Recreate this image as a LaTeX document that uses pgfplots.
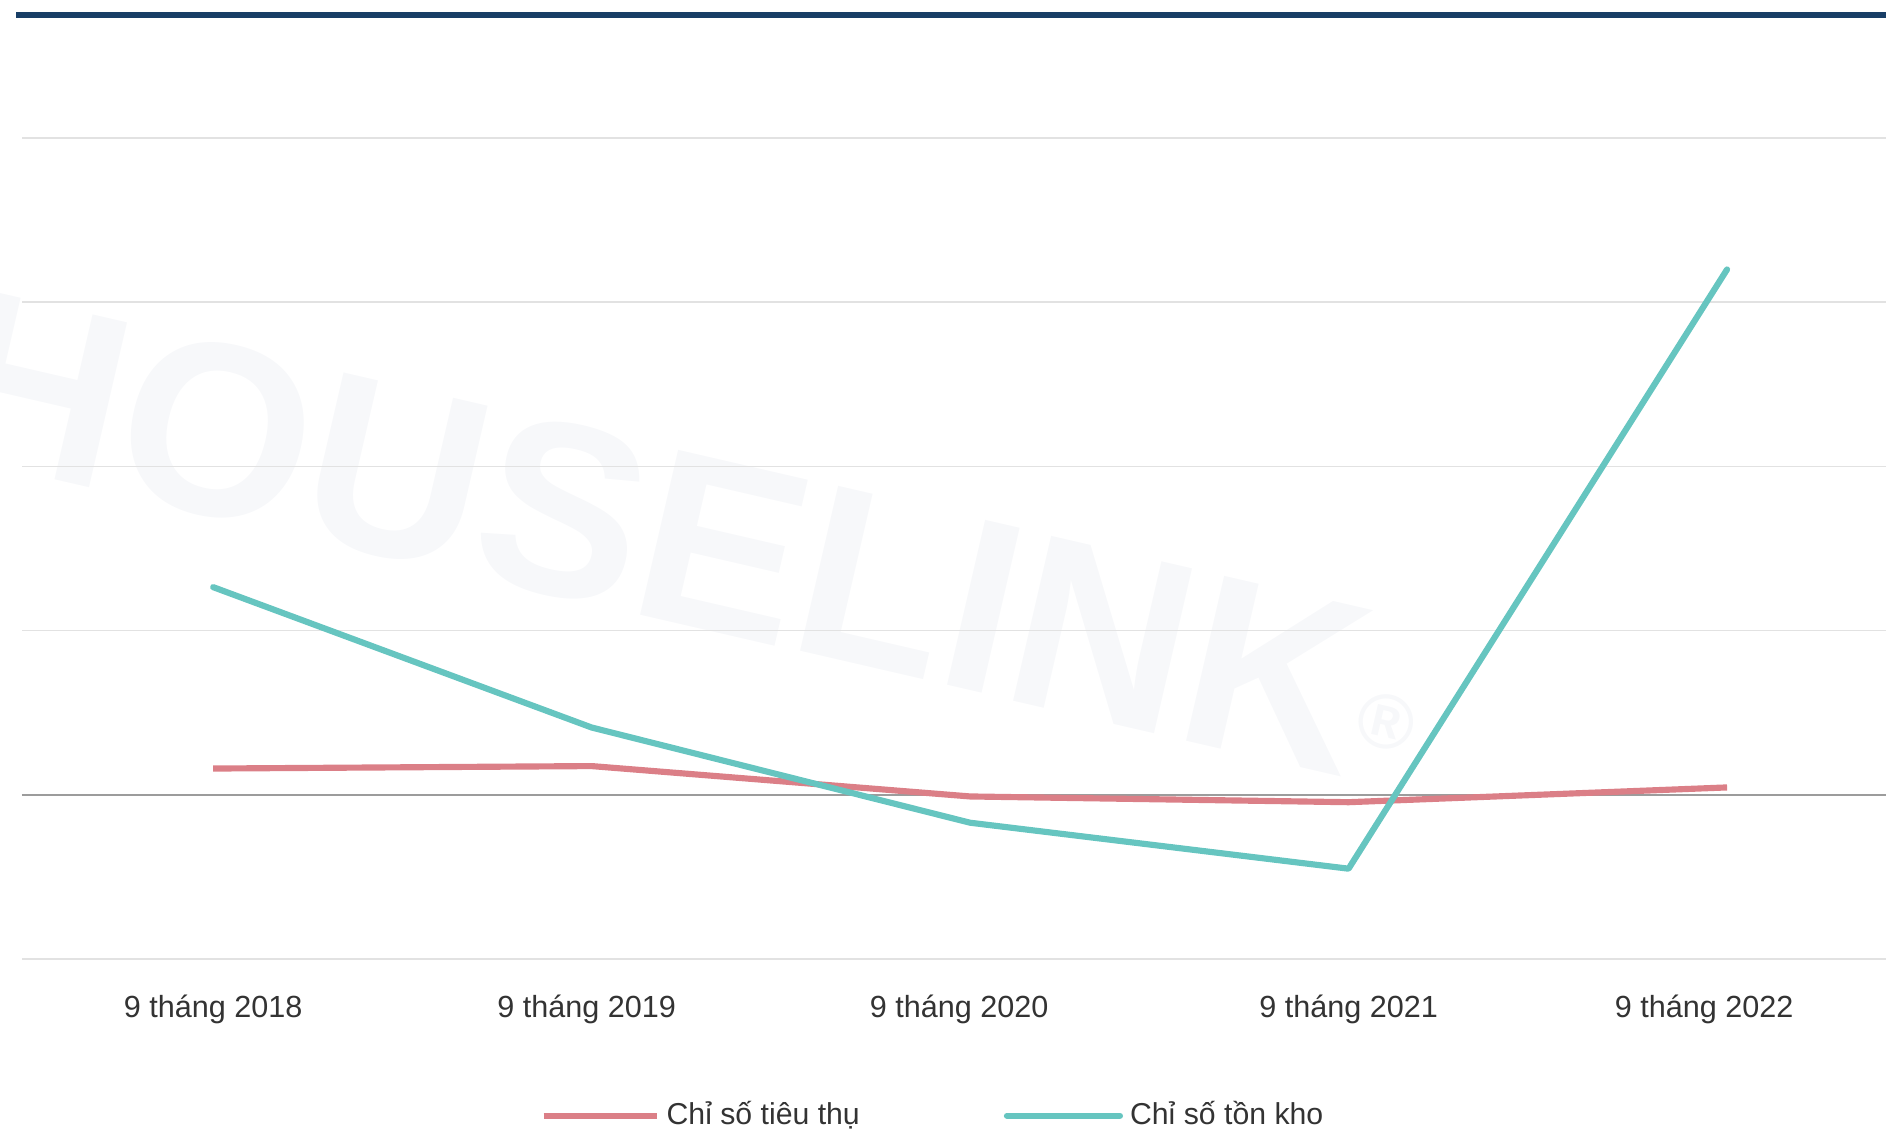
\documentclass[border=0pt]{standalone}
\usepackage{fontspec}
\setmainfont{Liberation Sans}
\usepackage{pgfplots}
\pgfplotsset{compat=1.18}
\definecolor{cred}{HTML}{DB7F87}
\definecolor{cteal}{HTML}{66C5C0}
\definecolor{navy}{HTML}{183E66}
\definecolor{txt}{HTML}{333333}
\definecolor{wm}{RGB}{247,248,250}
\definecolor{gridgray}{HTML}{E2E2E2}
\definecolor{zerogray}{HTML}{9C9C9C}
\begin{document}
\begin{tikzpicture}[x=1mm,y=1mm]
\path[use as bounding box] (0,0) rectangle (188.6,113.3);
\node[rotate=-13, text=wm, font=\fontsize{70}{70}\selectfont\bfseries] at (68.5,59.5) {HOUSELINK{\fontsize{22}{22}\selectfont\raisebox{0.9ex}{®}}};
\begin{axis}[
  at={(2.2mm,17.4mm)}, anchor=south west,
  scale only axis, width=186.4mm, height=94.4mm,
  xmin=-0.505, xmax=4.42, ymin=-1, ymax=4.75,
  axis line style={draw=none},
  tick style={draw=none}, major tick length=0pt,
  xtick={0,1,2,3,4},
  xticklabels={9 tháng 2018,\hspace*{-1mm}9 tháng 2019,\hspace*{-2.2mm}9 tháng 2020,9 tháng 2021,\hspace*{-4.6mm}9 tháng 2022},
  ytick={-1,0,1,2,3,4}, yticklabels={,,,,,},
  ymajorgrids, grid style={color=gridgray, line width=0.45pt},
  xticklabel style={anchor=base, yshift=-5.9mm, font=\fontsize{8.7}{10}\selectfont, text=txt},
  extra y ticks={0}, extra y tick labels={,},
  extra y tick style={grid style={color=zerogray, line width=0.6pt}},
  legend columns=2,
  legend style={draw=none, fill=none, at={(0.49,-0.166)}, anchor=center,
    font=\fontsize{8.6}{10}\selectfont, text=txt,
    /tikz/every even column/.append style={column sep=13.7mm}},
  legend image code/.code={\draw[#1] (0mm,0mm) -- (11.3mm,0mm);},
  clip=false,
]
\draw[navy, line width=1.5pt] (rel axis cs:-0.003,1) -- (rel axis cs:1,1);
\addplot[cred, line width=1.75pt, line join=round] coordinates {
  (0,0.16) (1,0.175) (2,-0.01) (3,-0.045) (4,0.045)};
\addlegendentry{Chỉ số tiêu thụ}
\addplot[cteal, line width=1.75pt, line cap=round, line join=round] coordinates {
  (0,1.265) (1,0.41) (2,-0.17) (3,-0.45) (4,3.20)};
\addlegendentry{Chỉ số tồn kho}
\end{axis}
\end{tikzpicture}
\end{document}
